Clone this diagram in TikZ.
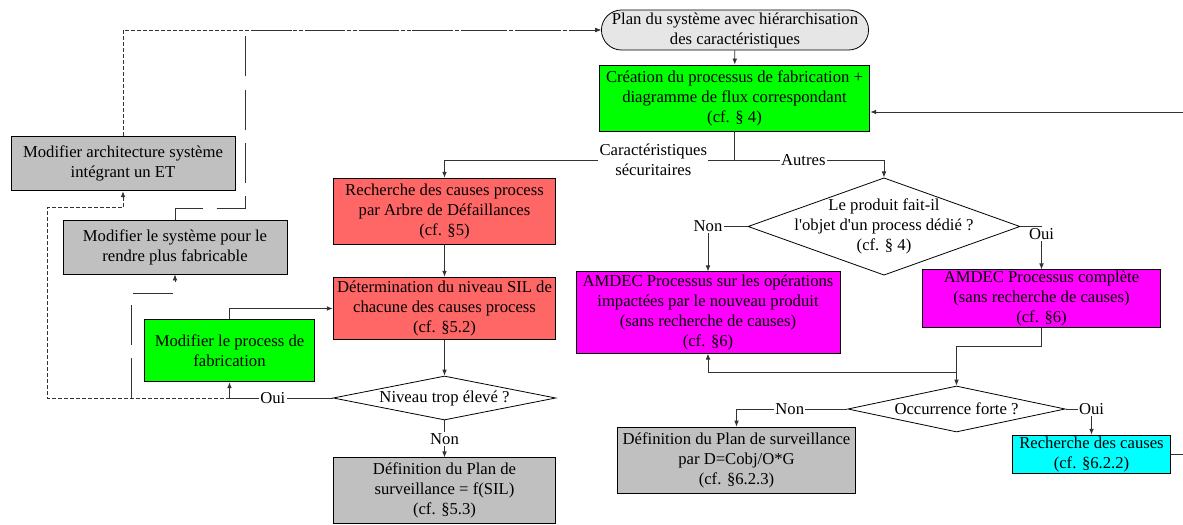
\documentclass[tikz,border=0pt]{standalone}
\usepackage{fontspec}
\setmainfont{Liberation Serif}
\usetikzlibrary{arrows.meta, shapes.geometric, shapes.misc, calc}
\definecolor{planfill}{HTML}{E6E6E6}
\definecolor{boxgray}{HTML}{C0C0C0}
\definecolor{boxgreen}{HTML}{00FF00}
\definecolor{boxred}{HTML}{FF6666}
\definecolor{boxmagenta}{HTML}{FF00FF}
\definecolor{boxcyan}{HTML}{00FFFF}
\definecolor{linegray}{HTML}{333333}
\newcommand{\flowfont}{\fontsize{12.5}{15}\selectfont}

\begin{document}
\begin{tikzpicture}[x=0.75pt, y=-0.75pt, font=\flowfont,
    box/.style={draw=black, line width=0.6pt, rectangle, align=center, inner sep=0pt},
    startbox/.style={draw=black, line width=0.6pt, rounded rectangle, fill=planfill, align=center, inner sep=0pt},
    decision/.style={draw=black, line width=0.6pt, diamond, fill=white, inner sep=0pt},
    link/.style={draw=linegray, line width=0.6pt},
    arr/.style={link, -{Latex[length=4.5pt, width=3.5pt]}},
    shortdash/.style={dash pattern=on 3pt off 1.5pt},
    longdash/.style={dash pattern=on 30pt off 10pt},
    lbl/.style={fill=white, inner sep=1pt, align=center}]

  \useasboundingbox (0,0) rectangle (1183,525);

  % main column
  \node[startbox, minimum width=199.5pt, minimum height=30pt] (plan) at (735,30)
    {Plan du système avec hiérarchisation\\des caractéristiques};
  \node[box, fill=boxgreen, minimum width=203pt, minimum height=49.5pt] (creation) at (734.5,98)
    {Création du processus de fabrication +\\diagramme de flux correspondant\\(cf. § 4)};

  % safety branch
  \node[box, fill=boxred, minimum width=167pt, minimum height=50pt] (rech) at (444.5,211.5)
    {Recherche des causes process\\par Arbre de Défaillances\\(cf. §5)};
  \node[box, fill=boxred, minimum width=167pt, minimum height=47pt] (det) at (444.5,308.5)
    {Détermination du niveau SIL de\\chacune des causes process\\(cf. §5.2)};
  \node[decision, minimum width=167pt, minimum height=33pt,
        label={[align=center]center:Niveau trop élevé ?}] (niveau) at (444.5,398) {};
  \node[box, fill=boxgray, minimum width=167pt, minimum height=49pt] (defsil) at (444.5,490.5)
    {Définition du Plan de\\surveillance = f(SIL)\\(cf. §5.3)};

  % loop back boxes
  \node[box, fill=boxgray, minimum width=168pt, minimum height=41pt] (arch) at (123,163.5)
    {Modifier architecture système\\intégrant un ET};
  \node[box, fill=boxgray, minimum width=168pt, minimum height=40.5pt] (sys) at (175,247)
    {Modifier le système pour le\\rendre plus fabricable};
  \node[box, fill=boxgreen, minimum width=128pt, minimum height=47pt] (modproc) at (229.5,350.5)
    {Modifier le process de\\fabrication};

  % other branch
  \node[decision, minimum width=204pt, minimum height=73pt,
        label={[align=center]center:{Le produit fait-il\\l\textquotesingle objet d\textquotesingle un process dédié ?\\(cf. § 4)}}] (produit) at (884,226.5) {};
  \node[box, fill=boxmagenta, minimum width=198pt, minimum height=61pt] (amdecop) at (708,312.5)
    {AMDEC Processus sur les opérations\\impactées par le nouveau produit\\(sans recherche de causes)\\(cf. §6)};
  \node[box, fill=boxmagenta, minimum width=178pt, minimum height=43pt] (amdeccomp) at (1041.5,298.5)
    {AMDEC Processus complète\\(sans recherche de causes)\\(cf. §6)};
  \node[decision, minimum width=163pt, minimum height=34.5pt,
        label={[align=center]center:Occurrence forte ?}] (occ) at (956.5,409) {};
  \node[box, fill=boxgray, minimum width=179pt, minimum height=49.5pt] (defplan) at (736.5,460)
    {Définition du Plan de surveillance\\par D=Cobj/O*G\\(cf. §6.2.3)};
  \node[box, fill=boxcyan, minimum width=118pt, minimum height=29pt] (rechc) at (1091.5,454.5)
    {Recherche des causes\\(cf. §6.2.2)};

  \coordinate (split) at (creation.south |- 0,160);
  \coordinate (fromR) at (1183,112);
  \coordinate (toR) at (1183,454.5);

  % connectors
  \draw[arr] (plan) -- (creation);
  \draw[link] (creation.south) -- (split);
  \draw[arr] (split) -| node[lbl, pos=0.14] {Caractéristiques\\sécuritaires} (rech.north);
  \draw[arr] (split) -| node[lbl, pos=0.23] {Autres} (produit.north);
  \draw[arr] (fromR) -- (creation.east |- fromR);

  \draw[arr] (rech) -- (det);
  \draw[arr] (det) -- (niveau);
  \draw[arr] (niveau) -- node[lbl] {Non} (defsil);
  \draw[arr] (niveau.west) -| node[lbl, pos=0.29] {Oui} (modproc.south);
  \draw[arr] (modproc.north) |- (det.west);

  \draw[arr, shortdash] (modproc.south |- niveau.west) -- (47,398) |- ($(arch.south)+(0,16)$) -- (arch.south);
  \draw[arr, shortdash] (arch.north) |- (plan.west);
  \draw[arr, longdash] (131,398) |- ($(sys.south)+(0,19)$) -- (sys.south);
  \draw[arr, longdash] (sys.north) |- (245,208) -- (245,30) -- (plan.west);

  \draw[arr] (produit.west) -| node[lbl, pos=0.5] {Non} (amdecop.north);
  \draw[arr] (produit.east) -| node[lbl, pos=0.5, anchor=north] {Oui} (amdeccomp.north);
  \draw[arr] (amdeccomp.south) -- ++(0,19) -| (occ.north);
  \draw[arr] (occ.north |- 0,372) -| (amdecop.south);
  \draw[arr] (occ.west) -| node[lbl, pos=0.26] {Non} (defplan.north);
  \draw[arr] (occ.east) -| node[lbl, pos=0.5] {Oui} (rechc.north);
  \draw[link] (rechc.east) -- (toR);
\end{tikzpicture}
\end{document}
